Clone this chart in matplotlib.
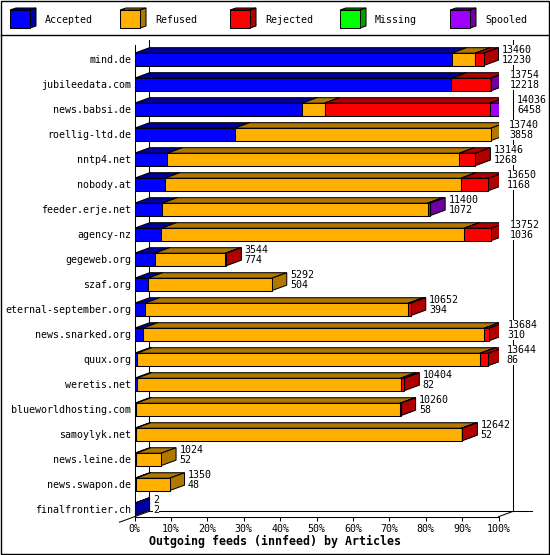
import numpy as np
import matplotlib.pyplot as plt
from matplotlib.patches import Polygon, Rectangle
from matplotlib.transforms import offset_copy

plt.rcParams['font.family'] = 'DejaVu Sans Mono'

# innfeed peers, top to bottom
hosts = ['mind.de', 'jubileedata.com', 'news.babsi.de', 'roellig-ltd.de',
         'nntp4.net', 'nobody.at', 'feeder.erje.net', 'agency-nz',
         'gegeweb.org', 'szaf.org', 'eternal-september.org',
         'news.snarked.org', 'quux.org', 'weretis.net',
         'blueworldhosting.com', 'samoylyk.net', 'news.leine.de',
         'news.swapon.de', 'finalfrontier.ch']
offered = [13460, 13754, 14036, 13740, 13146, 13650, 11400, 13752, 3544,
           5292, 10652, 13684, 13644, 10404, 10260, 12642, 1024, 1350, 2]
accepted = [12230, 12218, 6458, 3858, 1268, 1168, 1072, 1036, 774,
            504, 394, 310, 86, 82, 58, 52, 52, 48, 2]
refused = [910, 0, 870, 9882, 11260, 11420, 10230, 11680, 2733,
           4788, 10160, 13180, 13250, 10180, 10190, 12560, 972, 1302, 0]
rejected = [320, 1520, 6380, 0, 618, 1062, 0, 1036, 37,
            0, 98, 194, 308, 142, 12, 30, 0, 0, 0]
missing = [0, 0, 0, 0, 0, 0, 0, 0, 0, 0, 0, 0, 0, 0, 0, 0, 0, 0, 0]
spooled = [0, 16, 328, 0, 0, 0, 98, 0, 0, 0, 0, 0, 0, 0, 0, 0, 0, 0, 0]

series = [accepted, refused, rejected, missing, spooled]
names = ['Accepted', 'Refused', 'Rejected', 'Missing', 'Spooled']
front_cols = ['#0000ff', '#ffb000', '#ff0000', '#00ff00', '#a000ff']
dark_cols = ['#0000a0', '#b07800', '#b00000', '#00a000', '#7000a0']

FS = 7.2
LW = 0.75
DX, DY, H = 4.12, 0.22, 0.248   # 3d depth (percent, rows) and half bar height

fig = plt.figure(figsize=(5.5, 5.55), dpi=100, facecolor='white')

# background layer in pixels: frame, legend, title
bg = fig.add_axes([0, 0, 1, 1], zorder=-1)
bg.set_xlim(0, 550)
bg.set_ylim(555, 0)
bg.axis('off')
bg.add_patch(Rectangle((1, 1), 547.5, 552.5, fill=False, ec='k', lw=1))
bg.plot([1, 548.5], [35, 35], color='k', lw=1)
for k in range(5):
    lx = 10 + 110 * k
    bg.add_patch(Polygon([(lx, 10), (lx + 20, 10), (lx + 26, 8), (lx + 6, 8)],
                         fc=dark_cols[k], ec='k', lw=LW))
    bg.add_patch(Polygon([(lx + 20, 10), (lx + 26, 8), (lx + 26, 26), (lx + 20, 28)],
                         fc=dark_cols[k], ec='k', lw=LW))
    bg.add_patch(Rectangle((lx, 10), 20, 18, fc=front_cols[k], ec='k', lw=LW))
    bg.text(lx + 35, 20, names[k], va='center', ha='left', fontsize=FS)
bg.text(275, 541.7, 'Outgoing feeds (innfeed) by Articles', ha='center',
        va='center', fontsize=8.4, fontweight='bold')

ax = fig.add_axes([134.5 / 550, 1 - 516.7 / 555, 364 / 550, 471.7 / 555])
ax.patch.set_alpha(0)
ax.set_xlim(0, 100)
ax.set_ylim(18.29, -0.576)


def cube(x0, x1, y, c, d):
    ax.add_patch(Polygon([(x0, y - H), (x1, y - H), (x1 + DX, y - H - DY),
                          (x0 + DX, y - H - DY)], fc=d, ec='k', lw=LW))
    ax.add_patch(Polygon([(x1, y - H), (x1 + DX, y - H - DY),
                          (x1 + DX, y + H - DY), (x1, y + H)], fc=d, ec='k', lw=LW))
    ax.add_patch(Rectangle((x0, y - H), x1 - x0, 2 * H, fc=c, ec='k', lw=LW))


top = max(offered)
trans = offset_copy(ax.transData, fig=fig, x=3.4, y=0, units='dots')
for i in range(len(hosts)):
    x = 0
    for k in range(5):
        v = series[k][i]
        if v > 0:
            w = v / top * 100
            cube(x, x + w, i, front_cols[k], dark_cols[k])
            x += w
    for txt, dy in [(offered[i], -0.376), (accepted[i], 0.02)]:
        ax.text(x + DX, i + dy, str(txt), transform=trans, va='center',
                ha='left', fontsize=FS, zorder=5, clip_on=False,
                bbox=dict(fc='white', ec='none', pad=0))

# back walls and floor of the 3d frame
yb = 18.29
kw = dict(color='k', lw=LW, clip_on=False, zorder=0.5)
ax.plot([DX, DX], [-0.776, yb - DY], **kw)
ax.plot([100 + DX, 100 + DX], [-0.776, yb - DY], **kw)
ax.plot([DX, 109.1], [yb - DY, yb - DY], **kw)
ax.plot([-DX, DX], [yb + DY, yb - DY], **kw)
ax.plot([100, 100 + DX], [yb, yb - DY], **kw)

for s in ['top', 'right']:
    ax.spines[s].set_visible(False)
for s in ['left', 'bottom']:
    ax.spines[s].set_linewidth(LW)

ticks = np.arange(0, 101, 10)
ax.set_xticks(ticks)
ax.set_xticklabels(['%d%%' % t for t in ticks])
ax.tick_params(axis='x', length=2.9, width=LW, pad=2, labelsize=FS)
ax.set_yticks(range(len(hosts)))
ax.set_yticklabels(hosts)
ax.tick_params(axis='y', length=0, pad=2.5, labelsize=FS)

fig.savefig('out.png', dpi=100)
